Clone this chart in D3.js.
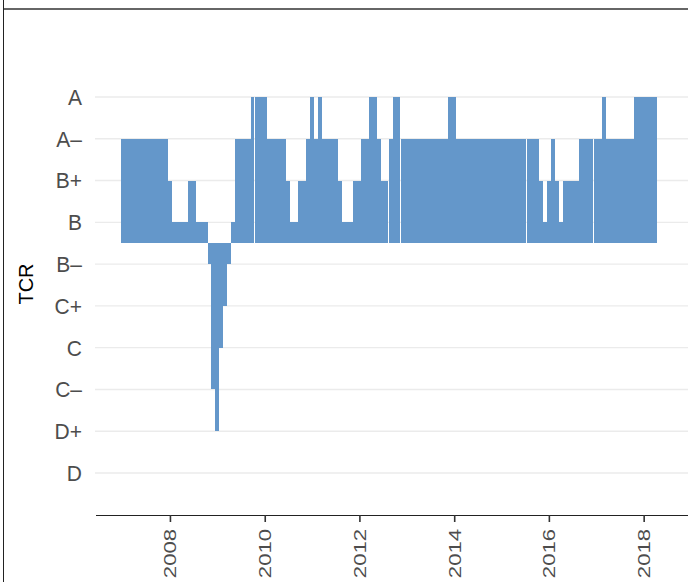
<!DOCTYPE html>
<html>
<head>
<meta charset="utf-8">
<script src="https://cdn.jsdelivr.net/npm/d3@7"></script>
<style>
  body { margin: 0; background: #fff; }
  svg { display: block; font-family: "Liberation Sans", Arial, sans-serif; }
</style>
</head>
<body>
<svg id="chart" width="688" height="582"></svg>
<script>
const width = 688;
const height = 582;

// rating scale, lowest first
const ratings = ["D", "D+", "C\u2013", "C", "C+", "B\u2013", "B", "B+", "A\u2013", "A"];

// one rating per month, starting Jan 2007
const firstMonth = new Date(2007, 0, 1);
const tcr = [
    // 2007
    "A–", "A–", "A–", "A–", "A–", "A–", "A–", "A–", "A–", "A–", "A–", "A–",
    // 2008
    "B+", "B", "B", "B", "B", "B+", "B+", "B", "B", "B", "B–", "C–",
    // 2009
    "D+", "C", "C+", "B–", "B", "A–", "A–", "A–", "A–", "A", "A", "A",
    // 2010
    "A", "A–", "A–", "A–", "A–", "A–", "B+", "B", "B", "B+", "B+", "A–",
    // 2011
    "A", "A–", "A", "A–", "A–", "A–", "A–", "B+", "B", "B", "B", "B+",
    // 2012
    "B+", "A–", "A–", "A", "A", "A–", "B+", "B+", "A–", "A", "A", "A–",
    // 2013
    "A–", "A–", "A–", "A–", "A–", "A–", "A–", "A–", "A–", "A–", "A–", "A",
    // 2014
    "A", "A–", "A–", "A–", "A–", "A–", "A–", "A–", "A–", "A–", "A–", "A–",
    // 2015
    "A–", "A–", "A–", "A–", "A–", "A–", "A–", "A–", "A–", "A–", "B+", "B",
    // 2016
    "B+", "A–", "B+", "B", "B+", "B+", "B+", "B+", "A–", "A–", "A–", "A–",
    // 2017
    "A–", "A–", "A", "A–", "A–", "A–", "A–", "A–", "A–", "A–", "A", "A",
    // 2018
    "A", "A", "A", "A"
];

// months where the series restarts (small white seam before the bar)
const breaks = ["2009-11", "2012-09", "2012-12", "2015-08", "2017-01"];

const baseline = 5.5;   // halfway between B and B–
const barColor = "#6497ca";

const svg = d3.select("#chart");

// frame of the surrounding figure
svg.append("line")
    .attr("x1", 3).attr("x2", width).attr("y1", 9).attr("y2", 9)
    .attr("stroke", "#666").attr("stroke-width", 2);
svg.append("line")
    .attr("x1", 3.5).attr("x2", 3.5).attr("y1", 0).attr("y2", height)
    .attr("stroke", "#222").attr("stroke-width", 1);

const x = d3.scaleTime()
    .domain([new Date(2006, 5, 6), new Date(2019, 0, 1)])
    .range([95.5, 691]);

const y = d3.scaleLinear()
    .domain([0, ratings.length - 1])
    .range([473, 97]);

// grid
svg.append("g")
    .selectAll("line")
    .data(ratings)
    .join("line")
    .attr("x1", 95).attr("x2", width)
    .attr("y1", (d, i) => y(i)).attr("y2", (d, i) => y(i))
    .attr("stroke", "#ebebeb").attr("stroke-width", 1.4);

// bars
const halfMonth = 365.25 / 24 * 864e5;
const edge = d => Math.round(x(new Date(d.getTime() - halfMonth)));
const fmt = d3.timeFormat("%Y-%m");
const data = tcr.map((r, i) => {
    const date = d3.timeMonth.offset(firstMonth, i);
    const next = d3.timeMonth.offset(firstMonth, i + 1);
    return { date, next, value: ratings.indexOf(r) };
});
const gapAfter = new Set(breaks.map(b => fmt(d3.timeMonth.offset(d3.timeParse("%Y-%m")(b), -1))));
const y0 = Math.round(y(baseline));

svg.append("g")
    .selectAll("rect")
    .data(data)
    .join("rect")
    .attr("x", d => edge(d.date))
    .attr("width", d => edge(d.next) - edge(d.date) - (gapAfter.has(fmt(d.date)) ? 1 : 0))
    .attr("y", d => Math.min(y0, Math.round(y(d.value))))
    .attr("height", d => Math.abs(Math.round(y(d.value)) - y0))
    .attr("fill", barColor)
    .attr("shape-rendering", "crispEdges");

// y labels
const yAxis = svg.append("g")
    .attr("transform", "translate(95,0)")
    .call(d3.axisLeft(y).tickValues(d3.range(ratings.length)).tickFormat(i => ratings[i]).tickSize(0).tickPadding(13));
yAxis.select(".domain").remove();
yAxis.selectAll("text")
    .attr("fill", "#4d4d4d")
    .style("font-size", "21px")
    .attr("y", 0)
    .attr("dy", "0.33em")
    .attr("transform", "scale(1,1.06)");

// x axis
const xAxis = svg.append("g")
    .attr("transform", "translate(0,515)")
    .call(d3.axisBottom(x).ticks(d3.timeYear.every(2)).tickFormat(d3.timeFormat("%Y")).tickSize(7).tickSizeOuter(0));
xAxis.select(".domain").attr("stroke", "#222").attr("stroke-width", 1.2);
xAxis.selectAll(".tick line").attr("stroke", "#333").attr("stroke-width", 1.6);
xAxis.selectAll("text")
    .attr("fill", "#4d4d4d")
    .style("font-size", "17px")
    .attr("text-anchor", "end")
    .attr("x", 0).attr("y", 0).attr("dy", null)
    .attr("transform", "translate(6,14) rotate(-90) scale(1.3,1)");

// axis title
svg.append("text")
    .attr("transform", "translate(33,284) rotate(-90)")
    .attr("text-anchor", "middle")
    .style("font-size", "20px")
    .attr("fill", "#000")
    .text("TCR");
</script>
</body>
</html>
